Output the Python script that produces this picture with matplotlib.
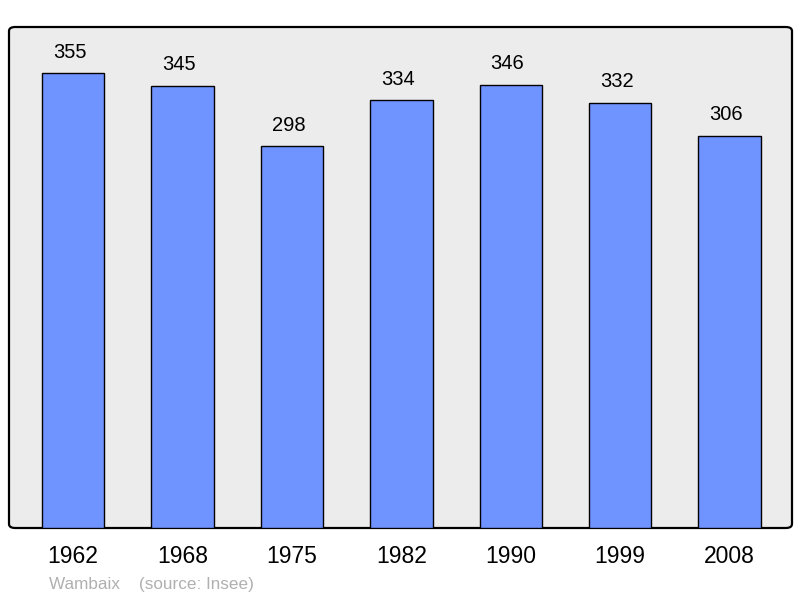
import matplotlib.pyplot as plt
from matplotlib.patches import FancyBboxPatch

years = ['1962', '1968', '1975', '1982', '1990', '1999', '2008']
population = [355, 345, 298, 334, 346, 332, 306]

plt.rcParams.update({'font.family': 'Liberation Sans'})

fig = plt.figure(figsize=(8, 5.98), dpi=100)
ax = fig.add_axes([9 / 800, 70 / 598, 783 / 800, 501 / 598])
ax.set_xlim(-0.585, 6.57)
ax.set_ylim(0, 391)
ax.axis('off')

# fond gris avec coins arrondis
bg = FancyBboxPatch((0, 0), 1, 1, boxstyle='round,pad=0,rounding_size=0.008',
                    transform=ax.transAxes, facecolor='#ececec', edgecolor='black',
                    linewidth=1.6, zorder=0, clip_on=False)
ax.add_patch(bg)

x = range(len(years))
ax.bar(x, population, width=0.57, color='#7094ff', edgecolor='black', linewidth=1.0, zorder=2)

for i, v in enumerate(population):
    ax.text(i - 0.03, v + 9, str(v), ha='center', va='bottom', fontsize=14.5)
    ax.text(i, -22, years[i], ha='center', va='center', fontsize=16.5)

fig.text(49 / 800, 1 - 584 / 598, 'Wambaix    (source: Insee)', color='#b0b0b0',
         fontsize=12.3, va='center', ha='left')

fig.savefig('out.png', dpi=100)
